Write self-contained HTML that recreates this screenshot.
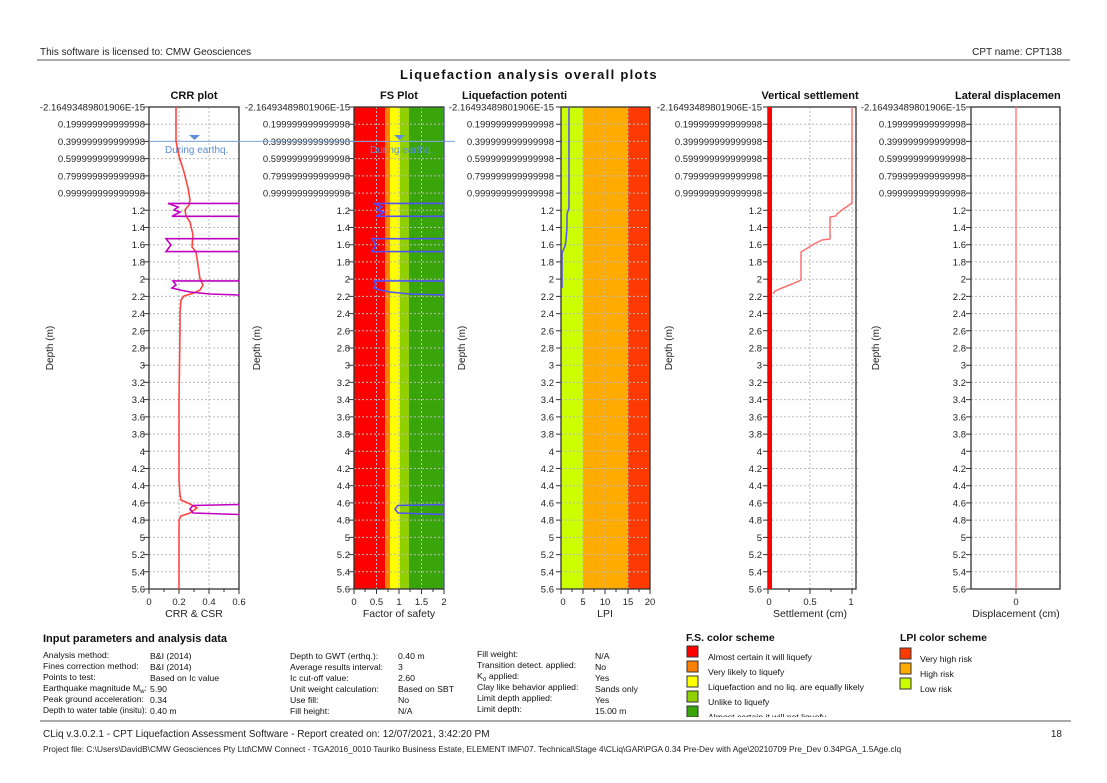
<!DOCTYPE html>
<html><head><meta charset="utf-8"><style>
body{margin:0;background:#fff;}
svg{display:block;font-family:"Liberation Sans",sans-serif;}
.t{font-size:9.5px;fill:#222;}
.g{stroke:#bbb;stroke-dasharray:2,2;stroke-width:1;fill:none;}
.f{fill:none;stroke:#333;stroke-width:1.3;}
.s{font-size:8.7px;fill:#111;}
</style></head><body>
<svg width="1107" height="783" viewBox="0 0 1107 783" xmlns="http://www.w3.org/2000/svg">
<defs>
<g id="yl" class="t" text-anchor="end">
<text x="0" y="110.5">-2.16493489801906E-15</text>
<text x="0" y="127.7">0.199999999999998</text>
<text x="0" y="144.9">0.399999999999998</text>
<text x="0" y="162.1">0.599999999999998</text>
<text x="0" y="179.4">0.799999999999998</text>
<text x="0" y="196.6">0.999999999999998</text>
<text x="0" y="213.8">1.2</text><text x="0" y="231">1.4</text><text x="0" y="248.2">1.6</text><text x="0" y="265.4">1.8</text>
<text x="0" y="282.6">2</text><text x="0" y="299.9">2.2</text><text x="0" y="317.1">2.4</text><text x="0" y="334.3">2.6</text>
<text x="0" y="351.5">2.8</text><text x="0" y="368.7">3</text><text x="0" y="385.9">3.2</text><text x="0" y="403.1">3.4</text>
<text x="0" y="420.4">3.6</text><text x="0" y="437.6">3.8</text><text x="0" y="454.8">4</text><text x="0" y="472">4.2</text>
<text x="0" y="489.2">4.4</text><text x="0" y="506.4">4.6</text><text x="0" y="523.6">4.8</text><text x="0" y="540.9">5</text>
<text x="0" y="558.1">5.2</text><text x="0" y="575.3">5.4</text><text x="0" y="592.5">5.6</text>
</g>
<path id="hg" d="M0 124.2h90M0 141.4h90M0 158.6h90M0 175.9h90M0 193.1h90M0 210.3h90M0 227.5h90M0 244.7h90M0 261.9h90M0 279.1h90M0 296.4h90M0 313.6h90M0 330.8h90M0 348h90M0 365.2h90M0 382.4h90M0 399.6h90M0 416.9h90M0 434.1h90M0 451.3h90M0 468.5h90M0 485.7h90M0 502.9h90M0 520.1h90M0 537.4h90M0 554.6h90M0 571.8h90"/>
<path id="tk" d="M-5 107h5M-5 124.2h5M-5 141.4h5M-5 158.6h5M-5 175.9h5M-5 193.1h5M-5 210.3h5M-5 227.5h5M-5 244.7h5M-5 261.9h5M-5 279.1h5M-5 296.4h5M-5 313.6h5M-5 330.8h5M-5 348h5M-5 365.2h5M-5 382.4h5M-5 399.6h5M-5 416.9h5M-5 434.1h5M-5 451.3h5M-5 468.5h5M-5 485.7h5M-5 502.9h5M-5 520.1h5M-5 537.4h5M-5 554.6h5M-5 571.8h5M-5 589h5" stroke="#333"/>
</defs>

<text x="40" y="55" font-size="10" fill="#222">This software is licensed to: CMW Geosciences</text>
<text x="1062" y="55" font-size="10" fill="#222" text-anchor="end">CPT name: CPT138</text>
<line x1="37" y1="60" x2="1070" y2="60" stroke="#555" stroke-width="1"/>
<text x="529" y="79" font-size="13" font-weight="bold" text-anchor="middle" letter-spacing="1.3" fill="#111">Liquefaction analysis overall plots</text>

<g font-size="11" font-weight="bold" fill="#111">
<text x="194" y="99" text-anchor="middle">CRR plot</text>
<text x="399" y="99" text-anchor="middle">FS Plot</text>
<text x="462" y="99">Liquefaction potenti</text>
<text x="810" y="99" text-anchor="middle">Vertical settlement</text>
<text x="955" y="99">Lateral displacemen</text>
</g>

<!-- CRR -->
<use href="#yl" x="145"/><use href="#tk" x="149"/>
<use href="#hg" x="149" class="g"/>
<path class="g" d="M179 107V589M209 107V589"/>
<rect x="149" y="107" width="90" height="482" class="f"/>
<!-- FS -->
<use href="#yl" x="350"/><use href="#tk" x="354"/>
<rect x="354" y="107" width="31" height="482" fill="#ff0000"/>
<rect x="385" y="107" width="5" height="482" fill="#ff8000"/>
<rect x="390" y="107" width="10" height="482" fill="#ffff00"/>
<rect x="400" y="107" width="9" height="482" fill="#90d000"/>
<rect x="409" y="107" width="35" height="482" fill="#3aa50a"/>
<use href="#hg" x="354" class="g"/>
<path class="g" d="M376.5 107V589M399 107V589M421.5 107V589"/>
<rect x="354" y="107" width="90" height="482" class="f"/>
<!-- LPI -->
<use href="#yl" x="554"/><use href="#tk" x="561"/>
<rect x="561" y="107" width="22" height="482" fill="#ccff00"/>
<rect x="583" y="107" width="45" height="482" fill="#ffab00"/>
<rect x="628" y="107" width="22" height="482" fill="#ff3a00"/>
<use href="#hg" x="561" class="g"/>
<path class="g" d="M583 107V589M605 107V589M628 107V589"/>
<rect x="561" y="107" width="89" height="482" class="f"/>
<!-- Settlement -->
<use href="#yl" x="762"/><use href="#tk" x="768"/>
<use href="#hg" x="768" class="g"/>
<path class="g" d="M810 107V589M852 107V589"/>
<rect x="768" y="107" width="88" height="482" class="f"/>
<!-- Lateral -->
<use href="#yl" x="966"/><use href="#tk" x="971"/>
<use href="#hg" x="971" class="g"/>
<path class="g" d="M1016 107V589"/>
<rect x="971" y="107" width="89" height="482" class="f"/>

<!-- Depth titles -->
<g font-size="10" fill="#222" text-anchor="middle">
<text transform="translate(53,348) rotate(-90)">Depth (m)</text>
<text transform="translate(260,348) rotate(-90)">Depth (m)</text>
<text transform="translate(465,348) rotate(-90)">Depth (m)</text>
<text transform="translate(672,348) rotate(-90)">Depth (m)</text>
<text transform="translate(879,348) rotate(-90)">Depth (m)</text>
</g>

<!-- x ticks -->
<g stroke="#333">
<path d="M149 589v5M164 589v3M179 589v5M194 589v3M209 589v5M224 589v3M239 589v5"/>
<path d="M354 589v5M365 589v3M376.5 589v5M388 589v3M399 589v5M410 589v3M421.5 589v5M433 589v3M444 589v5"/>
<path d="M561 589v5M572 589v3M583 589v5M594 589v3M605 589v5M616 589v3M628 589v5M639 589v3M650 589v5"/>
<path d="M768 589v5M789 589v3M810 589v5M831 589v3M852 589v5"/>
<path d="M1016 589v5"/>
</g>
<g class="t" text-anchor="middle">
<text x="149" y="605">0</text><text x="179" y="605">0.2</text><text x="209" y="605">0.4</text><text x="239" y="605">0.6</text>
<text x="354" y="605">0</text><text x="376.5" y="605">0.5</text><text x="399" y="605">1</text><text x="421.5" y="605">1.5</text><text x="444" y="605">2</text>
<text x="563" y="605">0</text><text x="583" y="605">5</text><text x="605" y="605">10</text><text x="628" y="605">15</text><text x="650" y="605">20</text>
<text x="769" y="605">0</text><text x="810" y="605">0.5</text><text x="851" y="605">1</text>
<text x="1016" y="605">0</text>
</g>
<g font-size="10.5" fill="#222" text-anchor="middle">
<text x="194" y="617">CRR &amp; CSR</text>
<text x="399" y="617">Factor of safety</text>
<text x="605" y="617">LPI</text>
<text x="810" y="617">Settlement (cm)</text>
<text x="1016" y="617">Displacement (cm)</text>
</g>

<!-- water table -->
<line x1="149" y1="141.4" x2="455" y2="141.4" stroke="#7aa6e0" stroke-width="1"/>
<path d="M189 135h11l-5.5 5z" fill="#5b8fd8"/>
<path d="M394 135h11l-5.5 5z" fill="#5b8fd8"/>
<text x="165" y="153" font-size="10" fill="#5b8fd8">During earthq.</text>
<text x="370" y="153" font-size="10" fill="#5b8fd8">During earthq.</text>

<!-- CRR red -->
<polyline fill="none" stroke="#ff4444" stroke-width="1.6" points="176,107 176,141 179,156 184,172 188,188 190,200 189,205 185,210 186,216 190,222 193,235 192,247 196,252 198,265 200,279 203,285 200,290 194,293 184,296 181,300 180,313 180,330 179,400 179,480 180,495 181,500 190,504 197,508 190,513 181,516 179,520 179,560 179,589"/>
<!-- CSR magenta -->
<g fill="none" stroke="#c000c0" stroke-width="1.6">
<polyline points="239,203.4 168,203.4 178,207 174,210 180,212 172,216.3 239,216.3"/>
<polyline points="239,238.7 166,238.7 171,245 166,251.6 239,251.6"/>
<polyline points="239,280.9 173,280.9 176,285 172,288 180,290 190,292 210,294 239,295"/>
<polyline points="239,504.5 193,505.5 190,509 193,513 239,514.5"/>
</g>
<!-- FS blue -->
<g fill="none" stroke="#5050ff" stroke-width="1.6">
<polyline points="444,203.4 374,203.4 382,207 377,210 384,212 376,216.3 444,216.3"/>
<polyline points="444,238.7 372,238.7 376,245 372,251.6 444,251.6"/>
<polyline points="444,280.9 374,280.9 376,285 374,288 380,290 390,292 410,294 444,295"/>
<polyline points="444,504.5 398,505.5 395,509 398,513 444,514.5"/>
<line x1="444" y1="107" x2="444" y2="589" stroke-width="1"/>
</g>
<!-- LPI blue -->
<polyline fill="none" stroke="#5050ff" stroke-width="1.5" points="569,107 569,208 567,214 567,227 566,240 565,246 562,253 562,288"/>
<!-- Settlement -->
<line x1="770" y1="107" x2="770" y2="589" stroke="#ff0000" stroke-width="4"/>
<polyline fill="none" stroke="#ff7070" stroke-width="1.5" points="852,107 852,203 842,210 837,214 836,216 830,217 830,239 822,240 814,244 801,252 801,280 792,284 782,288 775,291 773,294"/>
<!-- Lateral -->
<line x1="1016" y1="107" x2="1016" y2="589" stroke="#ff8080" stroke-width="1.5"/>

<!-- Input parameters -->
<text x="43" y="642" font-size="11" font-weight="bold" fill="#111">Input parameters and analysis data</text>
<g class="s">
<text x="43" y="658">Analysis method:</text><text x="150" y="659">B&amp;I (2014)</text>
<text x="43" y="669">Fines correction method:</text><text x="150" y="670">B&amp;I (2014)</text>
<text x="43" y="680">Points to test:</text><text x="150" y="681">Based on Ic value</text>
<text x="43" y="691">Earthquake magnitude M<tspan font-size="6" dy="2">w</tspan><tspan dy="-2">:</tspan></text><text x="150" y="692">5.90</text>
<text x="43" y="702">Peak ground acceleration:</text><text x="150" y="703">0.34</text>
<text x="43" y="713" textLength="104" lengthAdjust="spacingAndGlyphs">Depth to water table (insitu):</text><text x="150" y="714">0.40 m</text>
<text x="290" y="659">Depth to GWT (erthq.):</text><text x="398" y="659">0.40 m</text>
<text x="290" y="670">Average results interval:</text><text x="398" y="670">3</text>
<text x="290" y="681">Ic cut-off value:</text><text x="398" y="681">2.60</text>
<text x="290" y="692">Unit weight calculation:</text><text x="398" y="692">Based on SBT</text>
<text x="290" y="703">Use fill:</text><text x="398" y="703">No</text>
<text x="290" y="714">Fill height:</text><text x="398" y="714">N/A</text>
<text x="477" y="657">Fill weight:</text><text x="595" y="659">N/A</text>
<text x="477" y="668">Transition detect. applied:</text><text x="595" y="670">No</text>
<text x="477" y="679">K<tspan font-size="6" dy="2">σ</tspan><tspan dy="-2"> applied:</tspan></text><text x="595" y="681">Yes</text>
<text x="477" y="690">Clay like behavior applied:</text><text x="595" y="692">Sands only</text>
<text x="477" y="701">Limit depth applied:</text><text x="595" y="703">Yes</text>
<text x="477" y="712">Limit depth:</text><text x="595" y="714">15.00 m</text>
</g>

<!-- FS legend -->
<text x="686" y="641" font-size="10.5" font-weight="bold" fill="#111">F.S. color scheme</text>
<g stroke="#333" stroke-width="1">
<rect x="687" y="646" width="11" height="11" fill="#ff0000"/>
<rect x="687" y="661" width="11" height="11" fill="#ff8000"/>
<rect x="687" y="676" width="11" height="11" fill="#ffff00"/>
<rect x="687" y="691" width="11" height="11" fill="#90d000"/>
<rect x="687" y="706" width="11" height="11" fill="#3aa50a"/>
<rect x="900" y="648" width="11" height="11" fill="#ff3a00"/>
<rect x="900" y="663" width="11" height="11" fill="#ffab00"/>
<rect x="900" y="678" width="11" height="11" fill="#ccff00"/>
</g>
<g class="s">
<text x="708" y="660">Almost certain it will liquefy</text>
<text x="708" y="675">Very likely to liquefy</text>
<text x="708" y="690">Liquefaction and no liq. are equally likely</text>
<text x="708" y="705">Unlike to liquefy</text>
<text x="708" y="720">Almost certain it will not liquefy</text>
<text x="920" y="662">Very high risk</text>
<text x="920" y="677">High risk</text>
<text x="920" y="692">Low risk</text>
</g>
<text x="900" y="641" font-size="10.5" font-weight="bold" fill="#111">LPI color scheme</text>
<rect x="640" y="717" width="460" height="4" fill="#fff"/>
<line x1="40" y1="721" x2="1071" y2="721" stroke="#555" stroke-width="1"/>
<text x="43" y="737" font-size="10" fill="#222">CLiq v.3.0.2.1 - CPT Liquefaction Assessment Software - Report created on: 12/07/2021, 3:42:20 PM</text>
<text x="1062" y="737" font-size="10" fill="#222" text-anchor="end">18</text>
<text x="43" y="752" font-size="8.3" fill="#222">Project file: C:\Users\DavidB\CMW Geosciences Pty Ltd\CMW Connect - TGA2016_0010 Tauriko Business Estate, ELEMENT IMF\07. Technical\Stage 4\CLiq\GAR\PGA 0.34 Pre-Dev with Age\20210709 Pre_Dev 0.34PGA_1.5Age.clq</text>
</svg>
</body></html>
